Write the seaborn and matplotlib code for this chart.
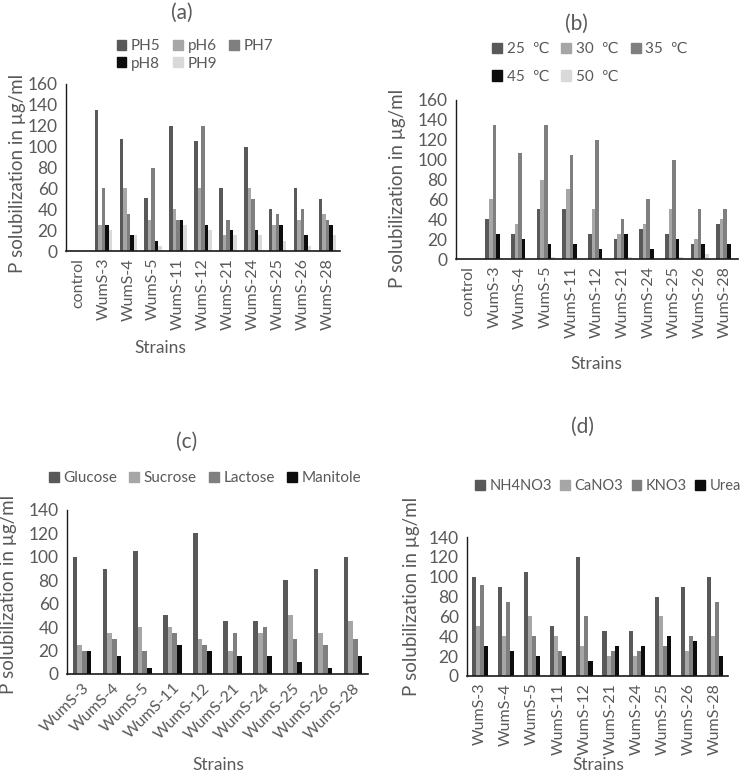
import numpy as np
import pandas as pd
import matplotlib
matplotlib.use("Agg")
import matplotlib.pyplot as plt
import seaborn as sns

sns.set_style("white")
plt.rcParams["font.family"] = ["Lato", "DejaVu Sans"]
plt.rcParams["text.color"] = "#595959"
plt.rcParams["xtick.color"] = "#595959"
plt.rcParams["ytick.color"] = "#595959"
plt.rcParams["axes.labelcolor"] = "#595959"

strains_ab = ["control", "WumS-3", "WumS-4", "WumS-5", "WumS-11", "WumS-12",
              "WumS-21", "WumS-24", "WumS-25", "WumS-26", "WumS-28"]
strains_cd = strains_ab[1:]

# (a) pH
ph_names = ["PH5", "pH6", "PH7", "pH8", "PH9"]
ph5 = [0, 135, 107, 51, 120, 105, 60, 100, 40, 60, 50]
ph6 = [0, 25, 60, 30, 40, 60, 15, 60, 25, 30, 35]
ph7 = [0, 60, 35, 80, 30, 120, 30, 50, 35, 40, 30]
ph8 = [0, 25, 15, 10, 30, 25, 20, 20, 25, 15, 25]
ph9 = [0, 20, 15, 5, 25, 20, 15, 15, 10, 5, 15]

# (b) temperature
temp_names = ["25  ℃", "30  ℃", "35  ℃", "45  ℃", "50  ℃"]
t25 = [0, 40, 25, 50, 50, 25, 20, 30, 25, 15, 35]
t30 = [0, 60, 35, 80, 70, 50, 25, 35, 50, 20, 40]
t35 = [0, 135, 107, 135, 105, 120, 40, 60, 100, 50, 50]
t45 = [0, 25, 20, 15, 15, 10, 25, 10, 20, 15, 15]
t50 = [0, 1, 0, 2, 0, 0, 2, 0, 2, 5, 0]

# (c) carbon source
carb_names = ["Glucose", "Sucrose", "Lactose", "Manitole"]
glucose = [100, 90, 105, 50, 120, 45, 45, 80, 90, 100]
sucrose = [25, 35, 40, 40, 30, 20, 35, 50, 35, 45]
lactose = [20, 30, 20, 35, 25, 35, 40, 30, 25, 30]
manitole = [20, 15, 5, 25, 20, 15, 15, 10, 5, 15]

# (d) nitrogen source
nit_names = ["NH4NO3", "CaNO3", "KNO3", "Urea"]
nh4no3 = [100, 90, 105, 50, 120, 45, 45, 80, 90, 100]
cano3 = [50, 40, 60, 40, 30, 20, 20, 60, 25, 40]
kno3 = [92, 75, 40, 25, 60, 25, 25, 30, 40, 75]
urea = [30, 25, 20, 20, 15, 30, 30, 40, 35, 20]

grays5 = ["#595959", "#a6a6a6", "#7f7f7f", "#0d0d0d", "#d9d9d9"]
grays4 = ["#595959", "#a6a6a6", "#7f7f7f", "#0d0d0d"]


def long_df(strains, names, series):
    rows = []
    for name, vals in zip(names, series):
        for s, v in zip(strains, vals):
            rows.append({"Strain": s, "Group": name, "Value": v})
    return pd.DataFrame(rows)


def panel(rect, strains, names, series, colors, ymax, yticks, width):
    ax = fig.add_axes(rect)
    df = long_df(strains, names, series)
    sns.barplot(data=df, x="Strain", y="Value", hue="Group", hue_order=names,
                palette=dict(zip(names, colors)), width=width, gap=0,
                linewidth=0, ax=ax, legend=False)
    ax.set_ylim(0, ymax)
    ax.set_yticks(yticks)
    ax.set_xlim(-0.5, len(strains) - 0.5)
    for s in ["top", "right"]:
        ax.spines[s].set_visible(False)
    ax.spines["left"].set_color("#1a1a1a")
    ax.spines["bottom"].set_color("#1a1a1a")
    ax.spines["left"].set_linewidth(1.0)
    ax.spines["bottom"].set_linewidth(1.2)
    ax.tick_params(axis="y", length=0, labelsize=12.5, pad=6)
    ax.tick_params(axis="x", length=0, labelsize=11.5, pad=5)
    ax.set_xlabel("")
    ax.set_ylabel("")
    return ax


def add_legend(ax, names, colors, order, ncol, anchor, rowspace, fs=11, cs=0.8):
    handles = [plt.Rectangle((0, 0), 1, 1, color=colors[i]) for i in order]
    labels = [names[i] for i in order]
    ax.legend(handles, labels, ncol=ncol, loc="center", bbox_to_anchor=anchor,
              bbox_transform=fig.transFigure, frameon=False, fontsize=fs,
              handlelength=0.65, handleheight=0.65, handletextpad=0.3,
              columnspacing=cs, labelspacing=rowspace, labelcolor="#595959")


fig = plt.figure(figsize=(7.4, 7.72), dpi=100)
W, H = 740, 772


def rect(x0, ytop, x1, y0):
    return [x0 / W, 1 - y0 / H, (x1 - x0) / W, (y0 - ytop) / H]


ylab = "P solubilization in µg/ml"

# (a)
ax = panel(rect(66, 84, 340, 251), strains_ab, ph_names,
           [ph5, ph6, ph7, ph8, ph9], grays5, 160, range(0, 161, 20), 0.7)
ax.tick_params(axis="x", labelrotation=90)
fig.text(18 / W, 1 - 173 / H, ylab, rotation=90, ha="center", va="center", fontsize=13.5)
fig.text(160 / W, 1 - 348 / H, "Strains", ha="center", va="center", fontsize=12.5)
fig.text(182 / W, 1 - 13 / H, "(a)", ha="center", va="center", fontsize=15)
add_legend(ax, ph_names, grays5, [0, 3, 1, 4, 2], 3, (195 / W, 1 - 55 / H), 0.2)

# (b)
ax = panel(rect(456, 100, 738, 259), strains_ab, temp_names,
           [t25, t30, t35, t45, t50], grays5, 160, range(0, 161, 20), 0.7)
ax.tick_params(axis="x", labelrotation=90)
fig.text(398 / W, 1 - 188 / H, ylab, rotation=90, ha="center", va="center", fontsize=13.5)
fig.text(596 / W, 1 - 364 / H, "Strains", ha="center", va="center", fontsize=12.5)
fig.text(576 / W, 1 - 24 / H, "(b)", ha="center", va="center", fontsize=15)
add_legend(ax, temp_names, grays5, [0, 3, 1, 4, 2], 3, (590 / W, 1 - 63 / H), 0.9)

# (c)
ax = panel(rect(67, 510, 368, 674), strains_cd, carb_names,
           [glucose, sucrose, lactose, manitole], grays4, 140, range(0, 141, 20), 0.62)
for t in ax.get_xticklabels():
    t.set_rotation(45)
    t.set_ha("right")
    t.set_rotation_mode("anchor")
fig.text(9 / W, 1 - 594 / H, ylab, rotation=90, ha="center", va="center", fontsize=13.5)
fig.text(218 / W, 1 - 765 / H, "Strains", ha="center", va="center", fontsize=12.5)
fig.text(187 / W, 1 - 442 / H, "(c)", ha="center", va="center", fontsize=15)
add_legend(ax, carb_names, grays4, [0, 1, 2, 3], 4, (205 / W, 1 - 478 / H), 0.3)

# (d)
ax = panel(rect(467, 537, 728, 676), strains_cd, nit_names,
           [nh4no3, cano3, kno3, urea], grays4, 140, range(0, 141, 20), 0.62)
ax.tick_params(axis="x", labelrotation=90)
fig.text(412 / W, 1 - 596 / H, ylab, rotation=90, ha="center", va="center", fontsize=13.5)
fig.text(598 / W, 1 - 765 / H, "Strains", ha="center", va="center", fontsize=12.5)
fig.text(583 / W, 1 - 427 / H, "(d)", ha="center", va="center", fontsize=15)
add_legend(ax, nit_names, grays4, [0, 1, 2, 3], 4, (608 / W, 1 - 486 / H), 0.3,
           fs=10.5, cs=0.6)

fig.savefig("out.png", dpi=100)
